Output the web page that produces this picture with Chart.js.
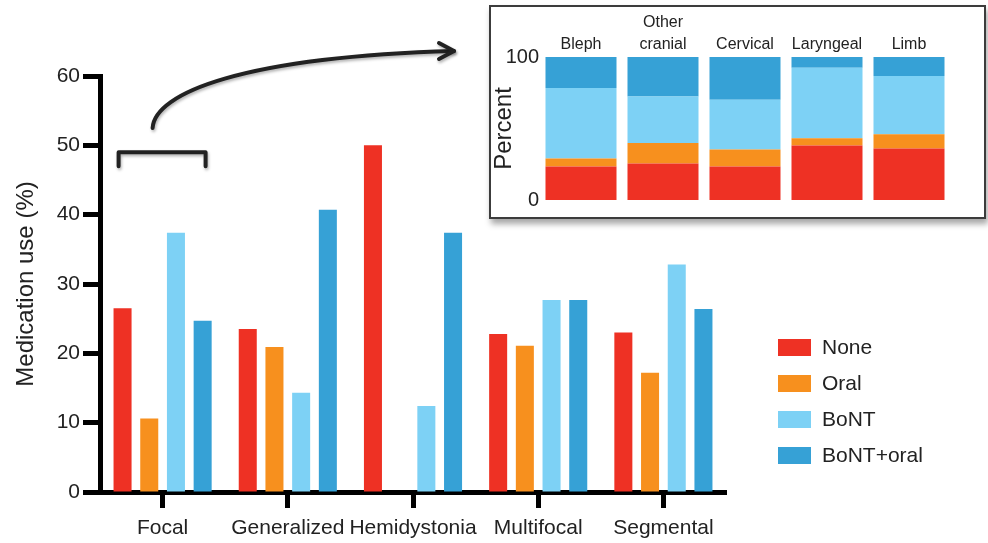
<!DOCTYPE html>
<html>
<head>
<meta charset="utf-8">
<script src="https://cdn.jsdelivr.net/npm/chart.js@4.4.1/dist/chart.umd.min.js"></script>
<style>
  html, body { margin: 0; padding: 0; background: #fff; }
  body { width: 988px; height: 543px; position: relative; overflow: hidden; font-family: 'Liberation Sans', Arial, sans-serif; }
  #main { position: absolute; left: 0; top: 0; }
  #box { position: absolute; left: 489px; top: 5px; width: 497px; height: 214px; box-sizing: border-box;
         border: 2.5px solid #3c3c3c; background: #fff; box-shadow: 2px 5px 6px rgba(0,0,0,0.35); }
  #inset { position: absolute; left: 490px; top: 5px; }
  #legend { position: absolute; left: 778px; top: 329px; }
  .row { height: 36px; display: flex; align-items: center; }
  .sw { width: 33px; height: 17px; margin-right: 11px; }
  .lb { font-size: 21px; color: #222; line-height: 36px; }
</style>
</head>
<body>
<canvas id="main" width="988" height="543"></canvas>
<div id="box"></div>
<canvas id="inset" width="496" height="214"></canvas>
<div id="legend"></div>
<script>
// ---- Data ----
const categories = ['Focal', 'Generalized', 'Hemidystonia', 'Multifocal', 'Segmental'];
const seriesNames = ['None', 'Oral', 'BoNT', 'BoNT+oral'];
const noneVals  = [26.5, 23.5, 50.0, 22.8, 23.0];
const oralVals  = [10.6, 20.9, 0.0, 21.1, 17.2];
const bontVals  = [37.4, 14.3, 12.4, 27.7, 32.8];
const bontOralVals = [24.7, 40.7, 37.4, 27.7, 26.4];
const yTicks = [0, 10, 20, 30, 40, 50, 60];

const insetCategories = [['Bleph'], ['Other', 'cranial'], ['Cervical'], ['Laryngeal'], ['Limb']];
const insetNone = [23.4, 25.5, 23.4, 38.1, 36.0];
const insetOral = [5.6, 14.3, 11.9, 5.1, 10.0];
const insetBont = [49.3, 32.5, 34.8, 49.3, 40.7];
const insetBontOral = [21.7, 27.7, 29.9, 7.5, 13.3];

const colors = ['#EE3124', '#F7901E', '#7DD1F5', '#36A1D6'];
const FONT = "'Liberation Sans', Arial, sans-serif";
const TXT = '#222';

// ---- Legend ----
const legend = document.getElementById('legend');
seriesNames.forEach((n, i) => {
  const r = document.createElement('div'); r.className = 'row';
  r.innerHTML = '<div class="sw" style="background:' + colors[i] + '"></div><div class="lb">' + n + '</div>';
  legend.appendChild(r);
});

// ---- Annotation plugin (bracket + arrow) ----
const annot = {
  id: 'annot',
  afterDraw(chart) {
    const ctx = chart.ctx, xs = chart.scales.x, ys = chart.scales.y;
    const cx = xs.getPixelForValue(0);
    const yTop = ys.getPixelForValue(49), yLeg = ys.getPixelForValue(47);
    ctx.save();
    ctx.strokeStyle = '#222';
    ctx.lineWidth = 4;
    ctx.lineCap = 'round';
    ctx.lineJoin = 'round';
    ctx.shadowColor = 'rgba(0,0,0,0.3)';
    ctx.shadowBlur = 3; ctx.shadowOffsetX = 1; ctx.shadowOffsetY = 2;
    // bracket
    ctx.beginPath();
    ctx.moveTo(cx - 44, yLeg);
    ctx.lineTo(cx - 44, yTop);
    ctx.lineTo(cx + 43, yTop);
    ctx.lineTo(cx + 43, yLeg);
    ctx.stroke();
    // arrow
    const sx = cx - 10, sy = ys.getPixelForValue(52.5);
    const ex = 454, ey = 51;
    ctx.beginPath();
    ctx.moveTo(sx, sy);
    ctx.bezierCurveTo(sx + 2, sy - 35, sx + 90, ey + 6, ex, ey);
    ctx.stroke();
    ctx.beginPath();
    ctx.moveTo(ex - 15, ey - 8);
    ctx.lineTo(ex, ey);
    ctx.lineTo(ex - 15, ey + 8);
    ctx.stroke();
    ctx.restore();
  }
};

// ---- Main chart ----
new Chart(document.getElementById('main'), {
  type: 'bar',
  data: {
    labels: categories,
    datasets: [
      { label: seriesNames[0], data: noneVals, backgroundColor: colors[0] },
      { label: seriesNames[1], data: oralVals, backgroundColor: colors[1] },
      { label: seriesNames[2], data: bontVals, backgroundColor: colors[2] },
      { label: seriesNames[3], data: bontOralVals, backgroundColor: colors[3] }
    ]
  },
  options: {
    responsive: false,
    animation: false,
    devicePixelRatio: 1,
    layout: { padding: { left: 0, right: 262, top: 76, bottom: 0 } },
    datasets: { bar: { categoryPercentage: 0.853, barPercentage: 0.675, borderWidth: 0 } },
    plugins: { legend: { display: false }, tooltip: { enabled: false } },
    scales: {
      x: {
        grid: { offset: false, drawOnChartArea: false, drawTicks: true, tickLength: 16, tickWidth: 5, tickColor: '#000' },
        border: { display: true, width: 5, color: '#000' },
        ticks: { color: TXT, font: { family: FONT, size: 21 }, padding: 8, maxRotation: 0, minRotation: 0, autoSkip: false },
        afterFit(s) { s.height = 51; }
      },
      y: {
        min: 0, max: 60,
        afterBuildTicks(s) { s.ticks = yTicks.map(v => ({ value: v })); },
        grid: { drawOnChartArea: false, drawTicks: true, tickLength: 17, tickWidth: 5, tickColor: '#000' },
        border: { display: true, width: 5, color: '#000' },
        ticks: { color: TXT, font: { family: FONT, size: 21 }, padding: 3 },
        title: { display: true, text: 'Medication use (%)', color: TXT, font: { family: FONT, size: 24 }, padding: { top: 12, bottom: 0 } },
        afterFit(s) { s.width = 100; }
      }
    }
  },
  plugins: [annot]
});

// ---- Inset chart ----
new Chart(document.getElementById('inset'), {
  type: 'bar',
  data: {
    labels: insetCategories,
    datasets: [
      { label: seriesNames[0], data: insetNone, backgroundColor: colors[0] },
      { label: seriesNames[1], data: insetOral, backgroundColor: colors[1] },
      { label: seriesNames[2], data: insetBont, backgroundColor: colors[2] },
      { label: seriesNames[3], data: insetBontOral, backgroundColor: colors[3] }
    ]
  },
  options: {
    responsive: false,
    animation: false,
    devicePixelRatio: 1,
    layout: { padding: { left: 0, right: 36, top: 0, bottom: 19 } },
    datasets: { bar: { categoryPercentage: 1, barPercentage: 0.866, borderWidth: 0 } },
    plugins: { legend: { display: false }, tooltip: { enabled: false } },
    scales: {
      x: {
        position: 'top',
        stacked: true,
        grid: { display: false, drawTicks: false },
        border: { display: false },
        ticks: { color: TXT, font: { family: FONT, size: 16, lineHeight: 1.375 }, padding: 1, maxRotation: 0, autoSkip: false },
        afterFit(s) { s.height = 52; }
      },
      y: {
        stacked: true,
        min: 0, max: 100,
        afterBuildTicks(s) { s.ticks = [{ value: 0 }, { value: 100 }]; },
        grid: { display: false, drawTicks: false },
        border: { display: false },
        ticks: { color: TXT, font: { family: FONT, size: 20 }, padding: 1 },
        title: { display: true, text: 'Percent', color: TXT, font: { family: FONT, size: 24 }, padding: { top: 0, bottom: 0 } },
        afterFit(s) { s.width = 50; }
      }
    }
  }
});
</script>
</body>
</html>
